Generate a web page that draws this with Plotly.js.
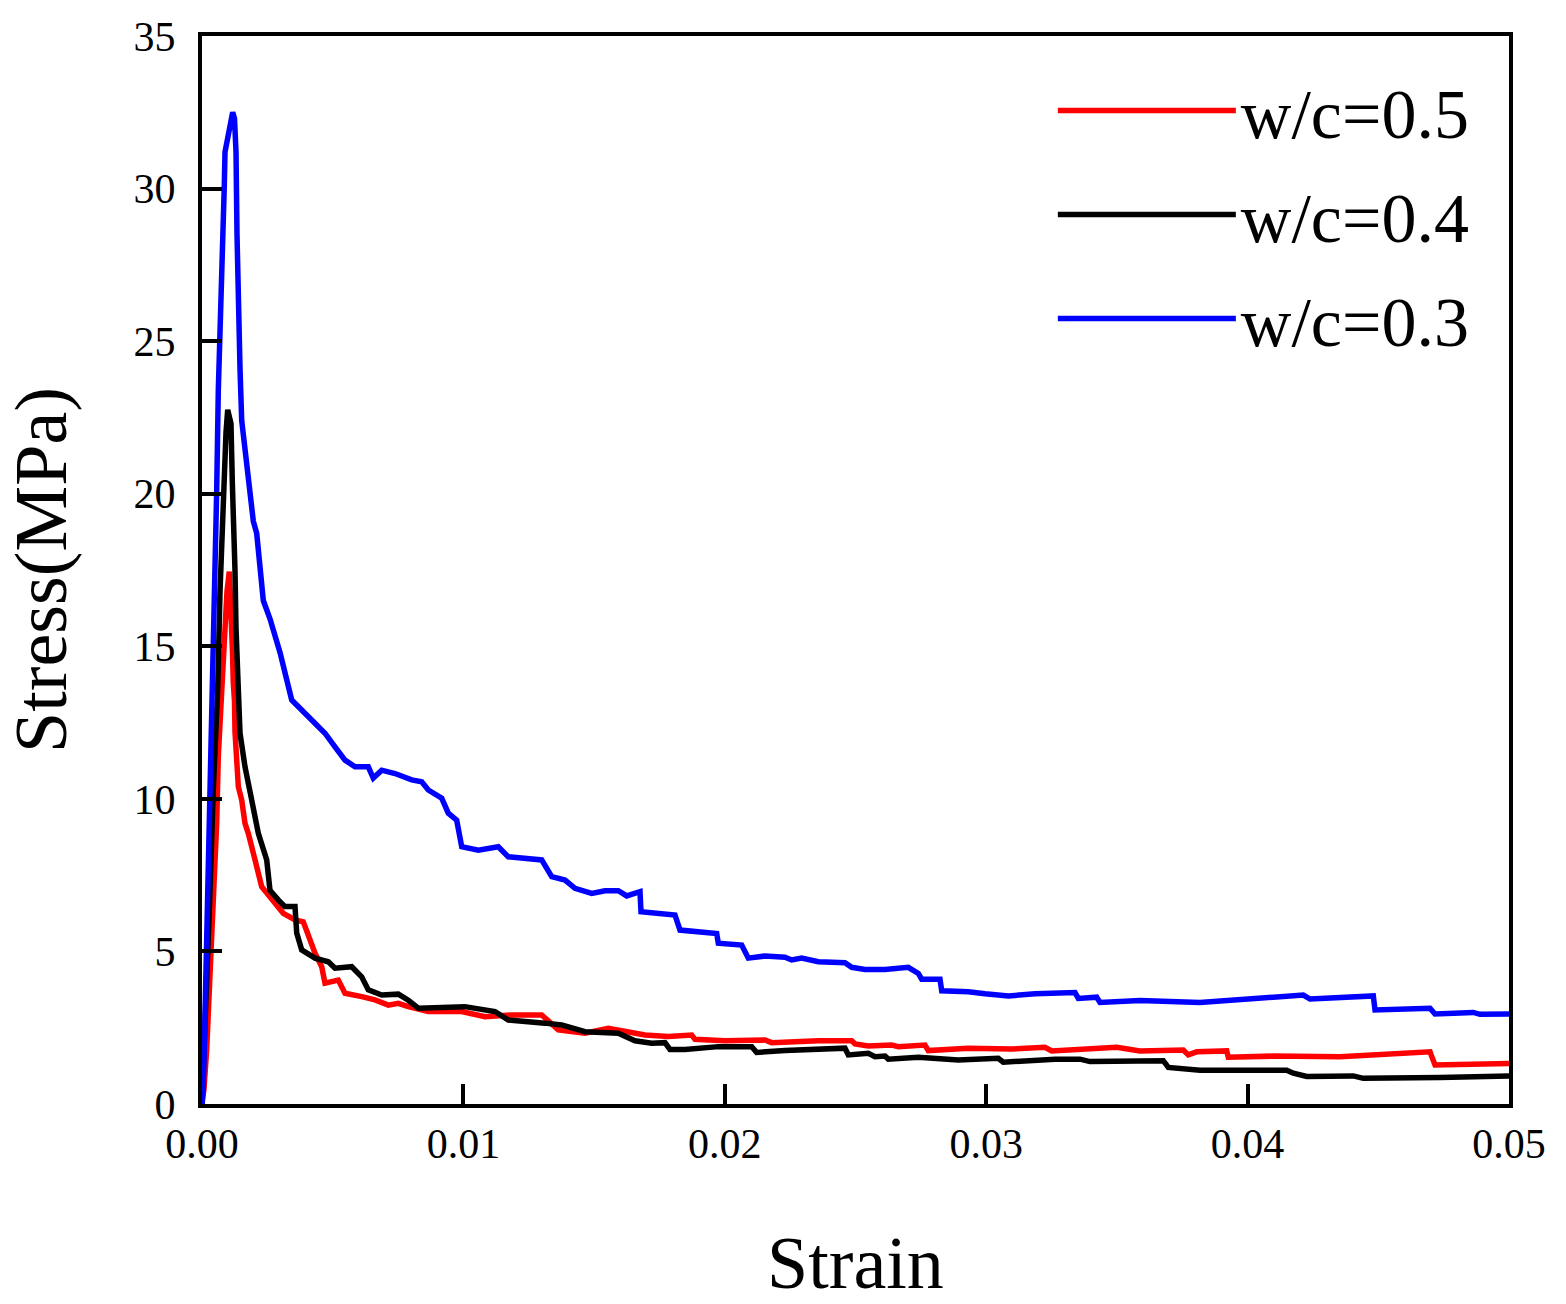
<!DOCTYPE html>
<html>
<head>
<meta charset="utf-8">
<script src="https://cdn.plot.ly/plotly-3.0.1.min.js"></script>
<style>
  html, body { margin: 0; padding: 0; background: #fff; }
  #chart { width: 1566px; height: 1304px; }
</style>
</head>
<body>
<div id="chart"></div>
<script>
// strain / stress readings, one pair of arrays per mix
const strain05 = [0, 0.0000765, 0.00018, 0.000268, 0.000371, 0.000471, 0.000562, 0.000624, 0.000754, 0.00088,
  0.000956, 0.001044, 0.00111, 0.001167, 0.001197, 0.001243, 0.001262, 0.001327, 0.001389, 0.001519,
  0.001645, 0.001771, 0.001963, 0.002028, 0.002284, 0.002667, 0.00311, 0.003558, 0.003875, 0.004132,
  0.004323, 0.004579, 0.004705, 0.005214, 0.005471, 0.006109, 0.006618, 0.007127, 0.00751, 0.007892,
  0.008657, 0.009935, 0.010826, 0.011848, 0.012995, 0.01363, 0.014652, 0.015543, 0.016182, 0.016947,
  0.017838, 0.018734, 0.01886, 0.020008, 0.021538, 0.021795, 0.023577, 0.024855, 0.024981, 0.02549,
  0.026385, 0.026638, 0.027659, 0.027785, 0.029315, 0.030975, 0.03225, 0.032506, 0.034992, 0.035884,
  0.03754, 0.037732, 0.038053, 0.039201, 0.039262, 0.040983, 0.043535, 0.046978, 0.047169, 0.05];
const stress05 = [0, 0.5, 1.8, 3.5, 5.3, 7.0, 9.2, 11.4, 13.6, 15.8,
  16.8, 17.45, 16.4, 14.8, 13.8, 13.2, 12.2, 11.4, 10.4, 9.96,
  9.2, 8.87, 8.1, 8.0, 7.12, 6.69, 6.25, 6.03, 5.97, 5.38,
  4.94, 4.5, 3.96, 4.06, 3.63, 3.52, 3.41, 3.24, 3.3, 3.19,
  3.03, 3.03, 2.86, 2.92, 2.92, 2.43, 2.32, 2.48, 2.37, 2.26,
  2.21, 2.26, 2.12, 2.07, 2.10, 2.01, 2.07, 2.07, 1.97, 1.90,
  1.93, 1.88, 1.93, 1.75, 1.83, 1.80, 1.86, 1.74, 1.86, 1.74,
  1.77, 1.61, 1.71, 1.74, 1.53, 1.57, 1.55, 1.71, 1.28, 1.33];

const strain04 = [0, 0.0000765, 0.000153, 0.00023, 0.000306, 0.000432, 0.000601, 0.000689, 0.000815, 0.000918,
  0.000983, 0.001052, 0.001109, 0.001159, 0.001224, 0.001262, 0.001301, 0.00132, 0.001358, 0.001389,
  0.001454, 0.001645, 0.001901, 0.002154, 0.002475, 0.002601, 0.002919, 0.003175, 0.003558, 0.003623,
  0.003814, 0.004323, 0.004832, 0.005088, 0.005727, 0.006109, 0.006362, 0.006874, 0.00751, 0.007892,
  0.008275, 0.009296, 0.010061, 0.011209, 0.011718, 0.013122, 0.01376, 0.014652, 0.015926, 0.016565,
  0.017203, 0.017712, 0.017903, 0.018477, 0.019751, 0.021029, 0.02122, 0.022303, 0.024598, 0.024725,
  0.02549, 0.025746, 0.026129, 0.026255, 0.027402, 0.028932, 0.030463, 0.030654, 0.032632, 0.033588,
  0.033971, 0.036775, 0.036967, 0.038179, 0.041496, 0.041748, 0.042261, 0.044044, 0.044426, 0.047361, 0.05];
const stress04 = [0, 1.5, 3.0, 5.0, 7.0, 10.3, 13.6, 16.8, 20.1, 22.0,
  22.75, 22.4, 22.3, 20.4, 19.0, 17.5, 15.6, 15.3, 14.9, 13.6,
  12.15, 11.05, 9.96, 8.87, 8.0, 7.0, 6.69, 6.47, 6.47, 5.6,
  5.05, 4.78, 4.66, 4.45, 4.5, 4.17, 3.74, 3.57, 3.6, 3.4,
  3.14, 3.19, 3.19, 3.03, 2.75, 2.65, 2.59, 2.37, 2.32, 2.07,
  1.99, 2.01, 1.79, 1.79, 1.88, 1.88, 1.69, 1.75, 1.83, 1.61,
  1.66, 1.55, 1.57, 1.47, 1.53, 1.44, 1.50, 1.37, 1.47, 1.47,
  1.39, 1.42, 1.20, 1.11, 1.11, 1.01, 0.90, 0.92, 0.84, 0.87, 0.92];

const strain03 = [0, 0.00005, 0.000115, 0.000218, 0.000344, 0.000432, 0.000497, 0.000562, 0.000624, 0.000715,
  0.000792, 0.000853, 0.00088, 0.000995, 0.00109, 0.001174, 0.001243, 0.001301, 0.001339, 0.001389,
  0.001454, 0.001519, 0.00171, 0.001963, 0.002093, 0.002345, 0.002601, 0.002984, 0.003432, 0.003814,
  0.004197, 0.004705, 0.005088, 0.005471, 0.005853, 0.006362, 0.006553, 0.006875, 0.007383, 0.008022,
  0.008405, 0.008657, 0.00917, 0.009423, 0.009744, 0.009935, 0.01057, 0.011335, 0.011718, 0.012483,
  0.012995, 0.013378, 0.013887, 0.014269, 0.014908, 0.015417, 0.015926, 0.016247, 0.016756, 0.016794,
  0.017586, 0.018095, 0.018286, 0.018986, 0.01969, 0.019752, 0.020647, 0.020899, 0.021538, 0.022303,
  0.022559, 0.022942, 0.023577, 0.024598, 0.024855, 0.025363, 0.026129, 0.02702, 0.027403, 0.027533,
  0.028233, 0.028298, 0.029315, 0.029954, 0.030845, 0.031867, 0.033397, 0.033524, 0.034227, 0.034354,
  0.035884, 0.038179, 0.039709, 0.042131, 0.042387, 0.044809, 0.044874, 0.046978, 0.047169, 0.048634,
  0.048891, 0.05];
const stress03 = [0, 0.6, 2.95, 7.0, 10.3, 13.6, 16.8, 20.1, 23.4, 25.7,
  27.9, 30.1, 31.2, 31.8, 32.2, 32.5, 32.3, 31.2, 28.5, 25.7,
  24.1, 22.4, 20.8, 19.1, 18.7, 16.5, 15.9, 14.8, 13.24, 12.9,
  12.6, 12.15, 11.7, 11.27, 11.05, 11.05, 10.68, 10.94, 10.83, 10.62,
  10.56, 10.29, 10.02, 9.53, 9.3, 8.43, 8.32, 8.43, 8.1, 8.05,
  8.0, 7.45, 7.34, 7.07, 6.9, 6.99, 6.99, 6.82, 6.96, 6.3,
  6.25, 6.19, 5.7, 5.65, 5.59, 5.27, 5.21, 4.78, 4.85, 4.81,
  4.72, 4.78, 4.66, 4.63, 4.48, 4.41, 4.41, 4.48, 4.28, 4.09,
  4.09, 3.71, 3.68, 3.61, 3.54, 3.61, 3.65, 3.46, 3.50, 3.33,
  3.39, 3.33, 3.43, 3.57, 3.44, 3.54, 3.08, 3.14, 2.95, 3.0,
  2.94, 2.95];

const seriesNames = ["w/c=0.5", "w/c=0.4", "w/c=0.3"];
const seriesColors = ["#ff0000", "#000000", "#0000ff"];
const xTickVals = [0, 0.01, 0.02, 0.03, 0.04, 0.05];
const xTickText = ["0.00", "0.01", "0.02", "0.03", "0.04", "0.05"];
const yTickVals = [0, 5, 10, 15, 20, 25, 30, 35];

const FONT = "Liberation Serif, DejaVu Serif, serif";

const xs = [strain05, strain04, strain03];
const ys = [stress05, stress04, stress03];

const traces = seriesNames.map((name, i) => ({
  x: xs[i],
  y: ys[i],
  name,
  mode: "lines",
  line: { color: seriesColors[i], width: 5.5 },
  legendgroup: "g" + i,
}));

const axisCommon = {
  showline: true,
  linecolor: "#000",
  linewidth: 4,
  mirror: true,
  ticks: "inside",
  ticklen: 20,
  tickwidth: 4,
  tickcolor: "#000",
  showgrid: false,
  zeroline: false,
  tickfont: { family: FONT, size: 42, color: "#000" },
};

const layout = {
  width: 1566,
  height: 1304,
  paper_bgcolor: "#fff",
  plot_bgcolor: "#fff",
  margin: { l: 202, r: 57, t: 36, b: 200 },
  showlegend: true,
  legend: {
    x: 0.651,
    xanchor: "left",
    y: 0.979,
    yanchor: "top",
    bgcolor: "rgba(0,0,0,0)",
    font: { family: FONT, size: 70, color: "#000" },
    itemwidth: 178,
    traceorder: "grouped",
    tracegroupgap: 10,
  },
  xaxis: {
    ...axisCommon,
    range: [0, 0.05],
    tickvals: xTickVals,
    ticktext: xTickText,
    ticklabelstandoff: 0,
    title: { text: "Strain", font: { family: FONT, size: 74, color: "#000" }, standoff: 72 },
  },
  yaxis: {
    ...axisCommon,
    range: [0, 35],
    tickvals: yTickVals,
    ticklabelstandoff: 14,
    title: { text: "Stress(MPa)", font: { family: FONT, size: 74, color: "#000" }, standoff: 44 },
  },
};

Plotly.newPlot("chart", traces, layout, { displayModeBar: false, staticPlot: true });
</script>
</body>
</html>
